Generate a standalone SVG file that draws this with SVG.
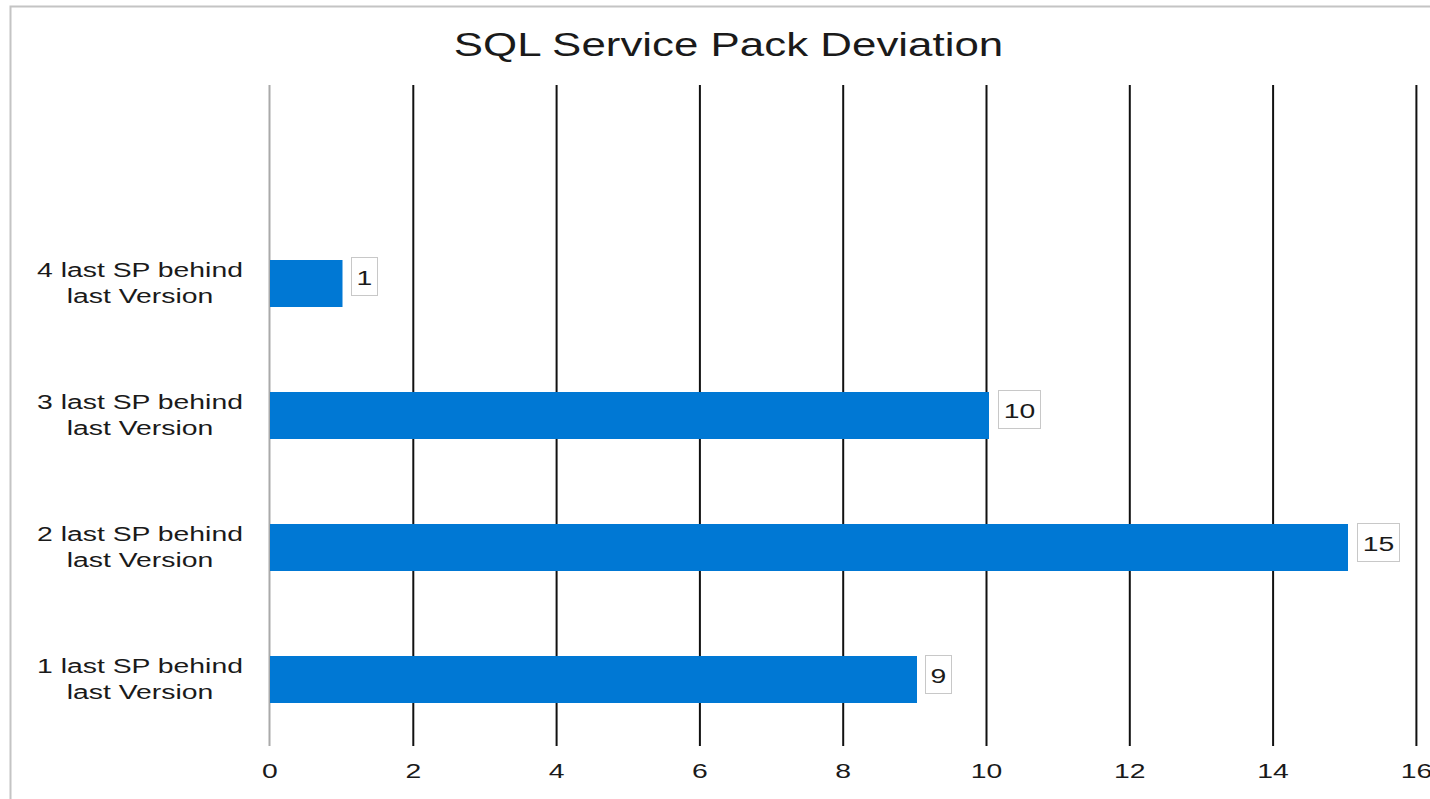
<svg xmlns="http://www.w3.org/2000/svg" width="1430" height="799" viewBox="0 0 1430 799">
<style>
.t{font-family:"Liberation Sans",Arial,sans-serif;fill:#1a1a1a;text-anchor:middle}
.cat{font-size:21px}
.tick{font-size:21px}
.val{font-size:21px}
.grid{stroke:#111;stroke-width:2}
.bar{fill:#0078D4}
.vbox{fill:#fff;stroke:#c8c8c8;stroke-width:1}
</style>
<rect x="0" y="0" width="1430" height="799" fill="#fff"/>
<rect x="10.5" y="6.5" width="1440" height="820" fill="none" stroke="#c4c4c4" stroke-width="2"/>
<text class="t" font-size="33" transform="translate(728.5 56) scale(1.33 1)">SQL Service Pack Deviation</text>
<g id="gridlines">
<line class="grid" x1="413.3" y1="85" x2="413.3" y2="746"/>
<line class="grid" x1="556.6" y1="85" x2="556.6" y2="746"/>
<line class="grid" x1="699.9" y1="85" x2="699.9" y2="746"/>
<line class="grid" x1="843.2" y1="85" x2="843.2" y2="746"/>
<line class="grid" x1="986.5" y1="85" x2="986.5" y2="746"/>
<line class="grid" x1="1129.8" y1="85" x2="1129.8" y2="746"/>
<line class="grid" x1="1273.1" y1="85" x2="1273.1" y2="746"/>
<line class="grid" x1="1416.4" y1="85" x2="1416.4" y2="746"/>
<line x1="269.5" y1="85" x2="269.5" y2="746" stroke="#aaa" stroke-width="2"/>
</g>
<g id="ticks">
<text class="t tick" transform="translate(270 778) scale(1.35 1)">0</text>
<text class="t tick" transform="translate(413.3 778) scale(1.35 1)">2</text>
<text class="t tick" transform="translate(556.6 778) scale(1.35 1)">4</text>
<text class="t tick" transform="translate(699.9 778) scale(1.35 1)">6</text>
<text class="t tick" transform="translate(843.2 778) scale(1.35 1)">8</text>
<text class="t tick" transform="translate(986.5 778) scale(1.35 1)">10</text>
<text class="t tick" transform="translate(1129.8 778) scale(1.35 1)">12</text>
<text class="t tick" transform="translate(1273.1 778) scale(1.35 1)">14</text>
<text class="t tick" transform="translate(1416.4 778) scale(1.35 1)">16</text>
</g>
<g id="bar4">
<text class="t cat" transform="translate(140 277) scale(1.35 1)">4 last SP behind</text>
<text class="t cat" transform="translate(140 303) scale(1.35 1)">last Version</text>
<rect class="bar" x="270" y="260" width="72.5" height="47"/>
<rect class="vbox" x="351.5" y="257.5" width="26" height="38"/>
<text class="t val" transform="translate(364.5 285) scale(1.35 1)">1</text>
</g>
<g id="bar3">
<text class="t cat" transform="translate(140 408.5) scale(1.35 1)">3 last SP behind</text>
<text class="t cat" transform="translate(140 434.5) scale(1.35 1)">last Version</text>
<rect class="bar" x="270" y="392" width="719" height="47"/>
<rect class="vbox" x="998.5" y="390.5" width="42" height="38"/>
<text class="t val" transform="translate(1019.5 418) scale(1.35 1)">10</text>
</g>
<g id="bar2">
<text class="t cat" transform="translate(140 540.5) scale(1.35 1)">2 last SP behind</text>
<text class="t cat" transform="translate(140 566.5) scale(1.35 1)">last Version</text>
<rect class="bar" x="270" y="524" width="1078" height="47"/>
<rect class="vbox" x="1357.5" y="523.5" width="42" height="38"/>
<text class="t val" transform="translate(1378.5 551) scale(1.35 1)">15</text>
</g>
<g id="bar1">
<text class="t cat" transform="translate(140 672.5) scale(1.35 1)">1 last SP behind</text>
<text class="t cat" transform="translate(140 698.5) scale(1.35 1)">last Version</text>
<rect class="bar" x="270" y="656" width="647" height="47"/>
<rect class="vbox" x="925.5" y="655.5" width="26" height="38"/>
<text class="t val" transform="translate(938.5 683) scale(1.35 1)">9</text>
</g>
</svg>
